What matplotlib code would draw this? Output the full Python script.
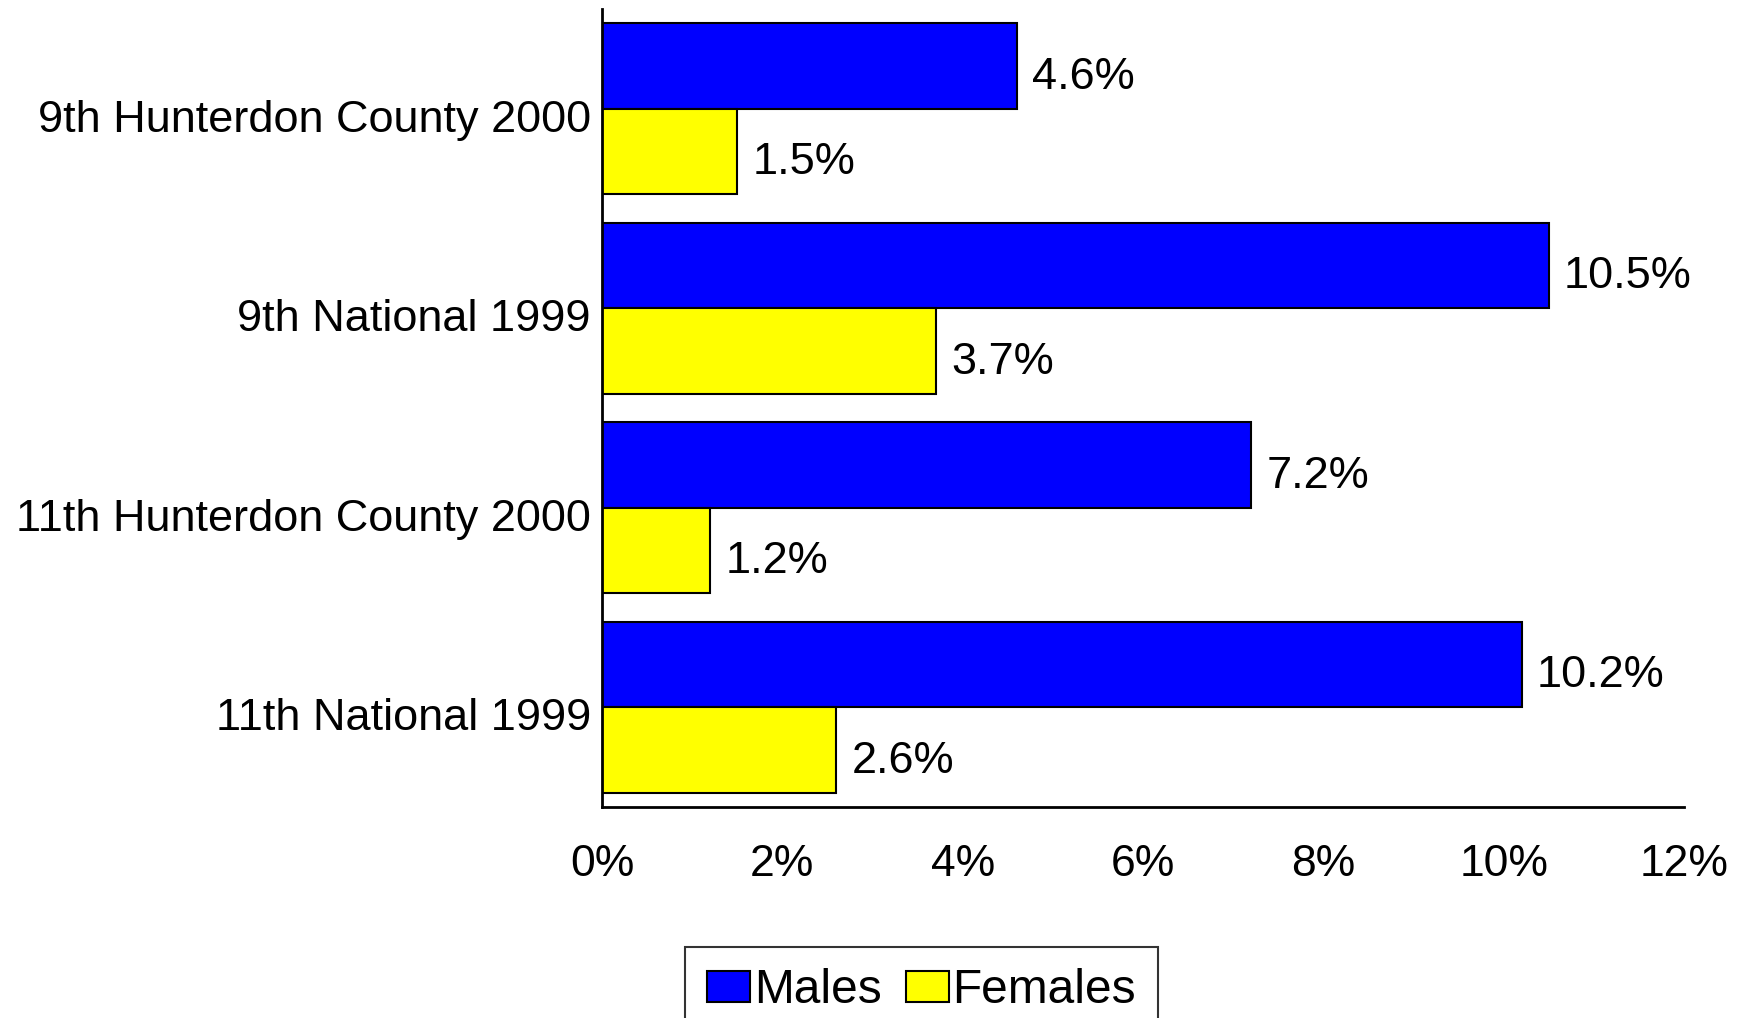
import matplotlib.pyplot as plt
import matplotlib.transforms as mtransforms
import numpy as np
from matplotlib.ticker import FuncFormatter

plt.rcParams['font.family'] = ['Liberation Sans', 'DejaVu Sans']

categories = ["9th Hunterdon County 2000", "9th National 1999",
              "11th Hunterdon County 2000", "11th National 1999"]
males = [4.6, 10.5, 7.2, 10.2]
females = [1.5, 3.7, 1.2, 2.6]
xticks = [0, 2, 4, 6, 8, 10, 12]

fig = plt.figure(figsize=(17.42, 10.18), dpi=100)
ax = fig.add_axes([0.3456, 0.2073, 0.6211, 0.7839])

y = np.arange(len(categories))
h = 0.428
b1 = ax.barh(y - h / 2, males, height=h, color='#0000ff', edgecolor='black', linewidth=1.5, label='Males')
b2 = ax.barh(y + h / 2, females, height=h, color='#ffff00', edgecolor='black', linewidth=1.5, label='Females')

# value labels, a little below bar centre like the original
for bars, vals in ((b1, males), (b2, females)):
    for bar, v in zip(bars, vals):
        ax.annotate(f"{v:.1f}%", (v, bar.get_y() + bar.get_height() / 2),
                    xytext=(11, -8), textcoords='offset points',
                    va='center', ha='left', fontsize=32.5)

ax.set_ylim(len(categories) - 0.5, -0.5)
ax.set_xlim(0, 12)
ax.set_yticks(y)
ax.set_yticklabels(categories, fontsize=32.5)
ax.set_xticks(xticks)
ax.xaxis.set_major_formatter(FuncFormatter(lambda v, p: f"{v:.0f}%"))
ax.tick_params(axis='x', length=0, pad=27, labelsize=32)
ax.tick_params(axis='y', length=0, pad=8)

# nudge category labels down a bit
shift = mtransforms.ScaledTranslation(0, -5 / 72, fig.dpi_scale_trans)
for lbl in ax.get_yticklabels():
    lbl.set_transform(lbl.get_transform() + shift)

for s in ('top', 'right'):
    ax.spines[s].set_visible(False)
for s in ('left', 'bottom'):
    ax.spines[s].set_linewidth(2)

leg = fig.legend(handles=[b1, b2], loc='upper center', bbox_to_anchor=(0.529, 0.070),
                 ncol=2, fontsize=34.5, frameon=True, fancybox=False, edgecolor='black',
                 handlelength=0.9, handleheight=0.64, handletextpad=0.08, columnspacing=0.5,
                 borderpad=0.45, borderaxespad=0)
leg.get_frame().set_linewidth(1.5)

fig.savefig("out.png", dpi=100)
